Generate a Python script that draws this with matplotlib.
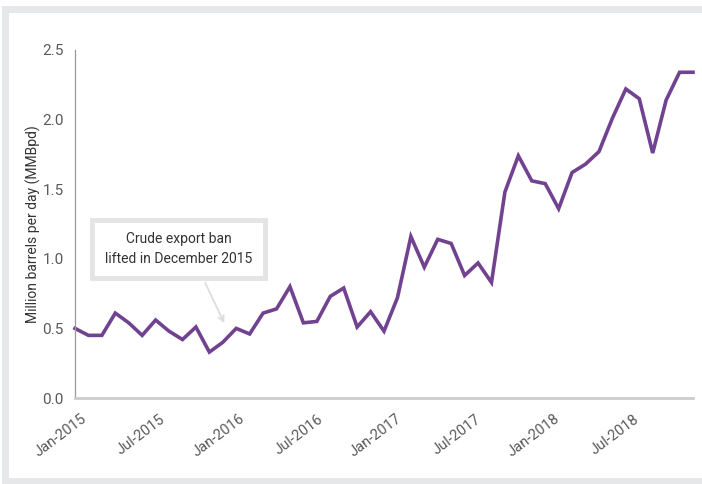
import numpy as np
import matplotlib.pyplot as plt
import matplotlib.transforms as mtransforms
from matplotlib.patches import Rectangle

plt.rcParams.update({
    "font.family": ["Roboto", "DejaVu Sans"],
    "figure.dpi": 100,
})

# Monthly US crude exports, Jan-2015 .. Nov-2018 (MMBpd)
exports = [
    0.50, 0.45, 0.45, 0.61, 0.54, 0.45, 0.56, 0.48, 0.42, 0.51, 0.33, 0.40,
    0.50, 0.46, 0.61, 0.64, 0.80, 0.54, 0.55, 0.73, 0.79, 0.51, 0.62, 0.48,
    0.72, 1.16, 0.94, 1.14, 1.11, 0.88, 0.97, 0.83, 1.48, 1.74, 1.56, 1.54,
    1.36, 1.62, 1.68, 1.77, 2.01, 2.22, 2.15, 1.76, 2.14, 2.34, 2.34,
]
tick_idx = [0, 6, 12, 18, 24, 30, 36, 42]
tick_labels = ["Jan-2015", "Jul-2015", "Jan-2016", "Jul-2016",
               "Jan-2017", "Jul-2017", "Jan-2018", "Jul-2018"]
y_ticks = [0.0, 0.5, 1.0, 1.5, 2.0, 2.5]

W, H = 702, 484
fig = plt.figure(figsize=(W / 100, H / 100), dpi=100)

# light grey frame around the chart
fig.add_artist(Rectangle((1.5 / W, 0), 1, 478 / H, transform=fig.transFigure,
                         facecolor="#e6e7e8", edgecolor="none", zorder=-10))
fig.add_artist(Rectangle((8.5 / W, 6 / H), 1, (478 - 13) / H, transform=fig.transFigure,
                         facecolor="white", edgecolor="none", zorder=-9))

ax = fig.add_axes([75 / W, (H - 398) / H, (693 - 75) / W, 348 / H])
ax.set_facecolor("none")

n = len(exports)
x = np.arange(n)
ax.plot(x, exports, color="#704290", lw=2.6, solid_joinstyle="miter", clip_on=False)

ax.set_xlim(0, n - 1)
ax.set_ylim(0, 2.5)
ax.set_yticks(y_ticks)
ax.set_yticklabels([f"{v:.1f}" for v in y_ticks])
# the original's date labels sit on a slightly tighter grid than the points
ax.set_xticks([i * (n - 1) / n for i in tick_idx])
ax.set_xticklabels(tick_labels, rotation=37, ha="right", rotation_mode="anchor")
ax.tick_params(axis="y", length=0, pad=8, labelsize=11, labelcolor="#5a5a5a")
ax.tick_params(axis="x", length=0, pad=10, labelsize=10.5, labelcolor="#5a5a5a")

# nudge the slanted date labels right, as in the original
shift = mtransforms.ScaledTranslation(4 / 72, 0, fig.dpi_scale_trans)
for lab in ax.get_xticklabels():
    lab.set_transform(lab.get_transform() + shift)

for s in ["top", "right"]:
    ax.spines[s].set_visible(False)
ax.spines["left"].set_color("#999999")
ax.spines["left"].set_linewidth(0.9)
ax.spines["bottom"].set_color("#cccccc")
ax.spines["bottom"].set_linewidth(2)

ax.set_ylabel("Million barrels per day (MMBpd)", fontsize=10, color="#333333", labelpad=1)

# annotation box and arrow
ax.text(7.7, 1.07, "Crude export ban\nlifted in December 2015", ha="center", va="center",
        fontsize=10, color="#333333", linespacing=1.5,
        bbox=dict(boxstyle="square,pad=0.9", facecolor="white", edgecolor="#e4e4e4", lw=3.5))
ax.annotate("", xy=(11.2, 0.52), xytext=(9.6, 0.845),
            arrowprops=dict(arrowstyle="->", color="#dddddd", lw=1.3))

plt.savefig("out.png", dpi=100)
plt.close()
